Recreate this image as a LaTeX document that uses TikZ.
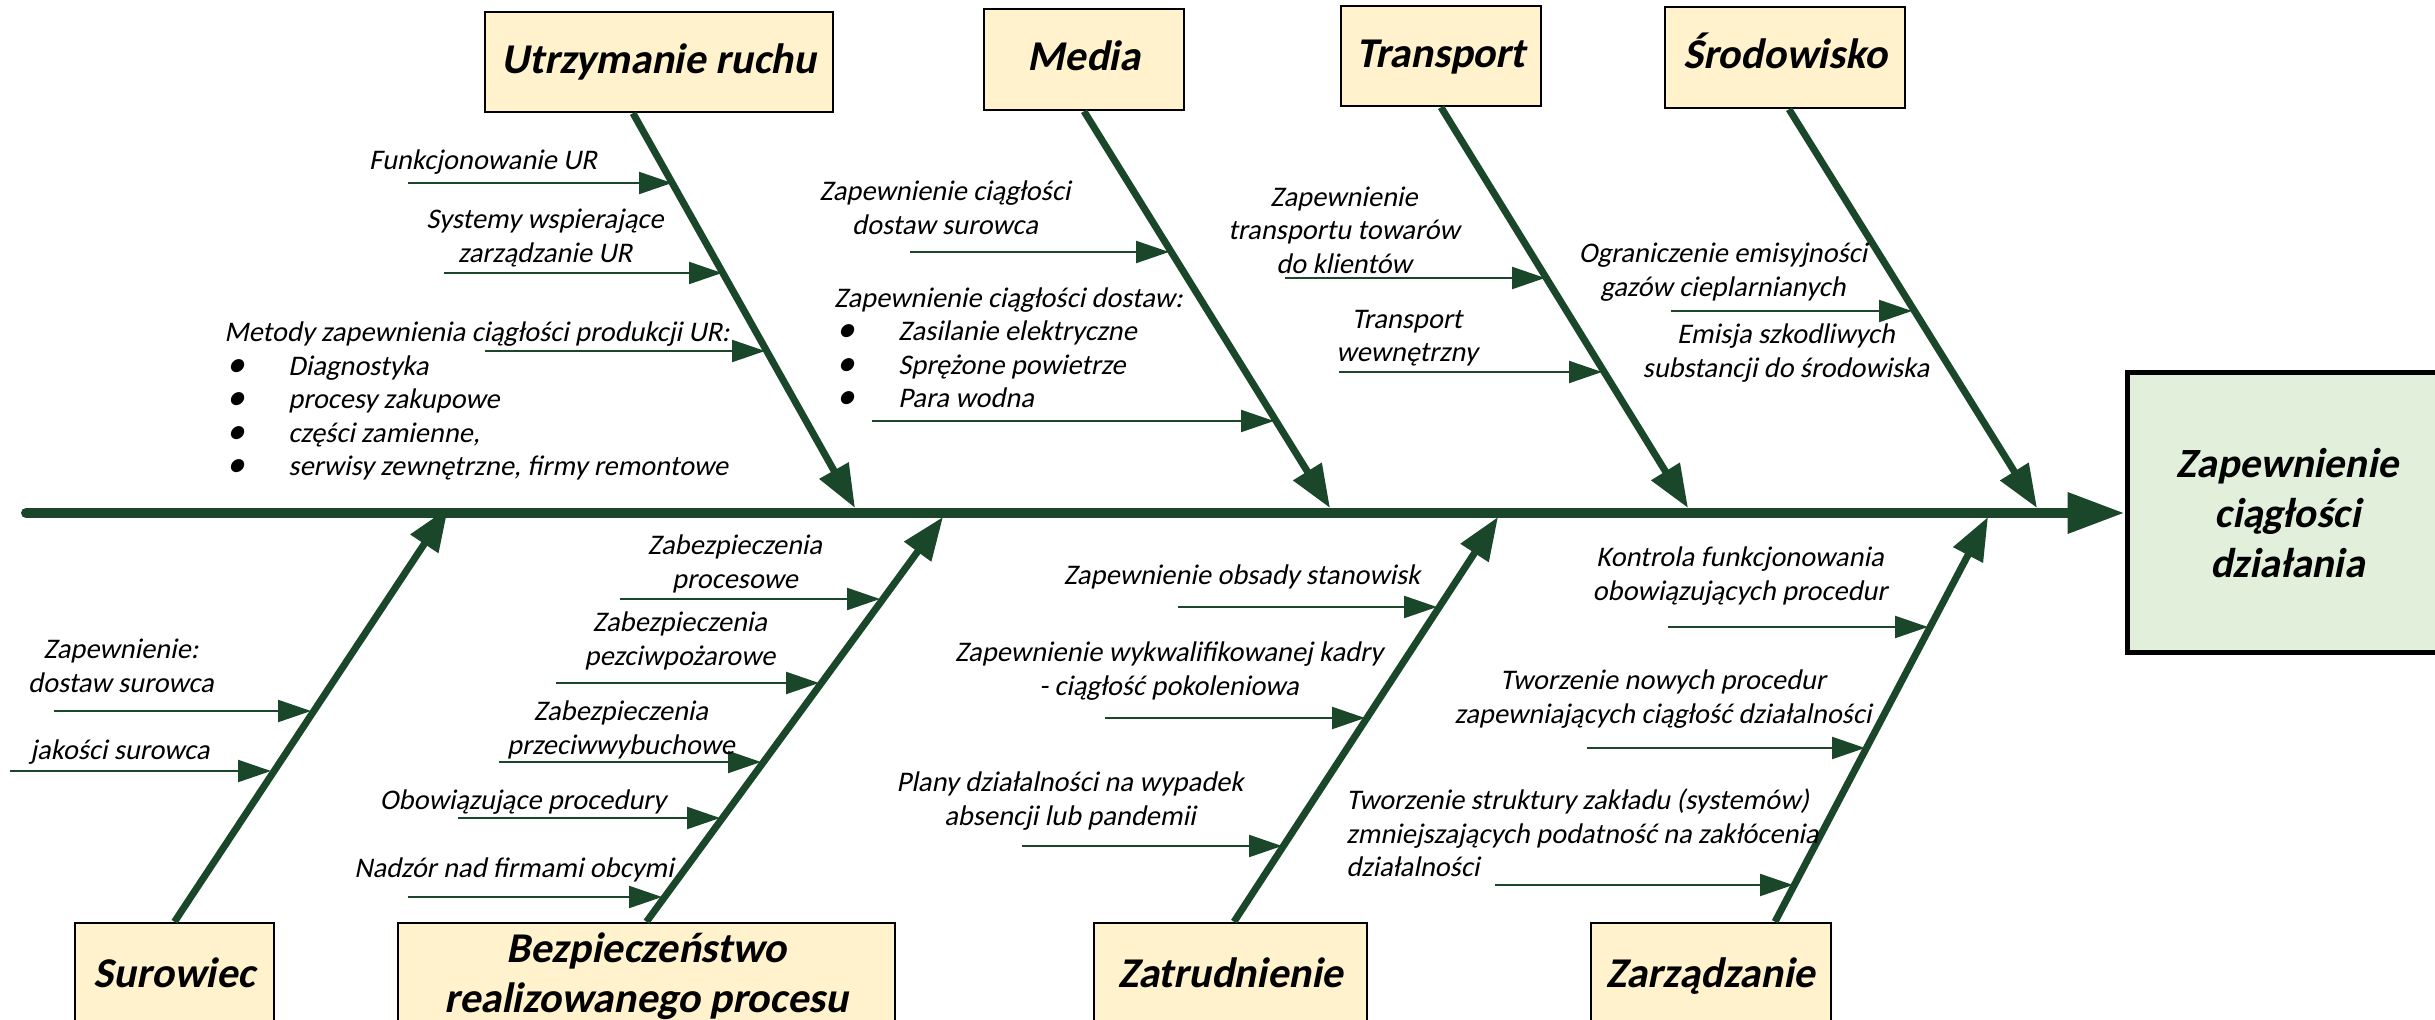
\documentclass[tikz,border=0pt]{standalone}
\usepackage{fontspec}
\setmainfont{Carlito}
\usetikzlibrary{arrows.meta,calc}
\definecolor{bonegreen}{RGB}{26,71,42}
\definecolor{cream}{RGB}{255,242,204}
\definecolor{effgreen}{RGB}{226,239,218}
\newcommand{\mybul}{\hspace*{1pt}\makebox[31pt][l]{\raisebox{-0.6pt}{\fontsize{18.5}{16}\selectfont\textbullet}}}
\newcommand{\slantit}{\addfontfeatures{FakeSlant=0.2}}
\begin{document}
\begin{tikzpicture}[x=0.5pt,y=-0.5pt,
  cat/.style={draw=black, line width=1.25pt, fill=cream, inner sep=0pt, align=center, font=\bfseries\fontsize{21.2}{25}\selectfont\slantit},
  one/.style={text height=16pt, text depth=4.9pt},
  eff/.style={draw=black, line width=2.5pt, fill=effgreen, inner sep=0pt, align=center, font=\bfseries\fontsize{20.8}{25}\selectfont\slantit},
  lab/.style={inner sep=0pt, align=center, font=\fontsize{14.2}{16.75}\selectfont\slantit},
  spine/.style={draw=bonegreen, line width=5pt, line cap=round, -{Triangle[length=28.5pt,width=19.5pt]}},
  bone/.style={draw=bonegreen, line width=3.5pt, -{Triangle[length=21.5pt,width=16pt]}},
  sub/.style={draw=bonegreen, line width=1.1pt, -{Triangle[length=16.5pt,width=11pt]}}
]
\useasboundingbox (0,0) rectangle (2435,1020);

% category boxes
\node[cat, one, minimum width=174pt, minimum height=50pt] (ur) at (659,62) {Utrzymanie ruchu};
\node[cat, one, minimum width=100pt, minimum height=50.5pt] (media) at (1084,59.5) {Media};
\node[cat, one, minimum width=100pt, minimum height=50pt] (trans) at (1441,56) {Transport};
\node[cat, one, minimum width=120pt, minimum height=50.5pt] (srod) at (1785,57.5) {Środowisko};
\node[cat, one, minimum width=99.5pt, minimum height=53.5pt] (sur) at (174.5,976.5) {Surowiec};
\node[cat, minimum width=248.5pt, minimum height=53.5pt] (bezp) at (646.5,976.5) {Bezpieczeństwo\\realizowanego procesu};
\node[cat, one, minimum width=136.5pt, minimum height=53.5pt] (zatr) at (1230.5,976.5) {Zatrudnienie};
\node[cat, one, minimum width=120pt, minimum height=53.5pt] (zarz) at (1711,976.5) {Zarządzanie};
\node[eff, minimum width=160.5pt, minimum height=140pt] (eff) at (2287.5,513) {Zapewnienie\\ciągłości\\działania};

% sub-cause arrows
\foreach \n/\xa/\xb/\yy in {a/408/672/183, b/444/722/273, c/485/765/351,
  d/910/1169/252, e/872/1274/421, f/1285/1545/278, g/1339/1602/372, h/1671/1912/311,
  j/54/311/711, k/10/271/771,
  l/620/880/599, m/556/819/683, n/499/761/762, o/458/720/818, p/408/662/897,
  q/1178/1437/607, r/1105/1365/718, s/1022/1282/846,
  t/1668/1928/627, u/1587/1865/748, v/1495/1793/885}{
  \coordinate (\n-s) at (\xa,\yy);
  \coordinate (\n-t) at (\xb,\yy);
  \draw[sub] (\n-s) -- (\n-t);
}

% spine
\coordinate (sp0) at (26,513);
\draw[spine] (sp0) -- (eff.west);

% bones
\coordinate (ur-e) at (855,508);
\coordinate (media-e) at (1330,508);
\coordinate (trans-e) at (1688,508);
\coordinate (srod-e) at (2037,508);
\coordinate (sur-e) at (448,508);
\coordinate (bezp-e) at (943,517);
\coordinate (zatr-e) at (1498,517);
\coordinate (zarz-e) at (1988,517);
\draw[bone] ([xshift=-13pt]ur.south) -- (ur-e);
\draw[bone] (media.south) -- (media-e);
\draw[bone] (trans.south) -- (trans-e);
\draw[bone] ([xshift=2pt]srod.south) -- (srod-e);
\draw[bone] (sur.north) -- (sur-e);
\draw[bone] (bezp.north) -- (bezp-e);
\draw[bone] ([xshift=1.75pt]zatr.north) -- (zatr-e);
\draw[bone] ([xshift=32pt]zarz.north) -- (zarz-e);

% labels
\node[lab] (la) at (483,162) {Funkcjonowanie UR};
\node[lab] (lb) at (545,238) {Systemy wspierające\\zarządzanie UR};
\node[lab, anchor=west, align=left] (lc) at (224,401) {Metody zapewnienia ciągłości produkcji UR:\\\mybul Diagnostyka\\\mybul procesy zakupowe\\\mybul części zamienne,\\\mybul serwisy zewnętrzne, firmy remontowe};
\node[lab] (ld) at (945,208) {Zapewnienie ciągłości\\dostaw surowca};
\node[lab, anchor=west, align=left] (le) at (834,348) {Zapewnienie ciągłości dostaw:\\\mybul Zasilanie elektryczne\\\mybul Sprężone powietrze\\\mybul Para wodna};
\node[lab] (lf) at (1344,230) {Zapewnienie\\transportu towarów\\do klientów};
\node[lab] (lg) at (1407,338) {Transport\\wewnętrzny};
\node[lab] (lh) at (1723,272) {Ograniczenie emisyjności\\gazów cieplarnianych};
\node[lab] (li) at (1786,353) {Emisja szkodliwych\\substancji do środowiska};
\node[lab] (lj) at (121,666) {Zapewnienie:\\dostaw surowca};
\node[lab] (lk) at (120,752) {jakości surowca};
\node[lab] (ll) at (735,564) {Zabezpieczenia\\procesowe};
\node[lab] (lm) at (680,641) {Zabezpieczenia\\pezciwpożarowe};
\node[lab] (ln) at (621,730) {Zabezpieczenia\\przeciwwybuchowe};
\node[lab] (lo) at (523,802) {Obowiązujące procedury};
\node[lab] (lp) at (514,870) {Nadzór nad firmami obcymi};
\node[lab] (lq) at (1242,577) {Zapewnienie obsady stanowisk};
\node[lab] (lr) at (1169,671) {Zapewnienie wykwalifikowanej kadry\\- ciągłość pokoleniowa};
\node[lab] (ls) at (1070,801) {Plany działalności na wypadek\\absencji lub pandemii};
\node[lab] (lt) at (1740,576) {Kontrola funkcjonowania\\obowiązujących procedur};
\node[lab] (lu) at (1663,699) {Tworzenie nowych procedur\\zapewniających ciągłość działalności};
\node[lab, anchor=west, align=left] (lv) at (1346,833) {Tworzenie struktury zakładu (systemów)\\zmniejszających podatność na zakłócenia\\działalności};
\end{tikzpicture}
\end{document}
